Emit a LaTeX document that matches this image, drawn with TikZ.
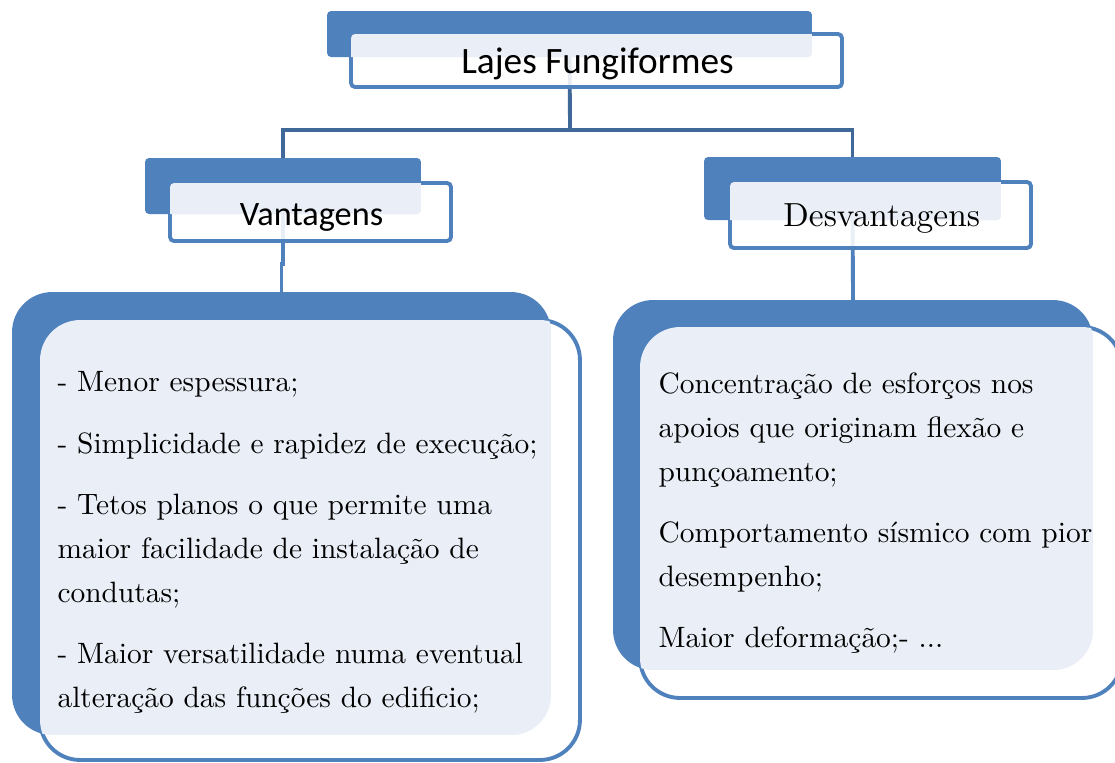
\documentclass[tikz,border=0pt]{standalone}
\usepackage{fontspec}
\newfontfamily\calibri{Carlito}
\usepackage{xcolor}
\usetikzlibrary{positioning,calc,backgrounds}
\definecolor{boxblue}{RGB}{79,129,189}
\definecolor{linkblue}{RGB}{64,104,153}
\definecolor{paleblue}{RGB}{234,239,247}
\tikzset{
	backbox/.style={rectangle,fill=boxblue,inner sep=0pt,outer sep=0pt},
	frontbox/.style={rectangle,draw=boxblue,line width=2.2pt,fill=white,fill opacity=0.88,draw opacity=1,inner sep=0pt,outer sep=0pt},
	link/.style={draw=linkblue,line width=2.2pt},
	sublink/.style={draw=boxblue,line width=2.2pt},
	listtext/.style={anchor=north west,inner sep=0pt,align=left,font=\fontsize{10}{14.9}\selectfont,scale=1.675,transform shape}
}
\begin{document}
\begin{tikzpicture}[x=0.02cm,y=-0.02cm]
		\useasboundingbox (0,0) rectangle (1115,762);
		% back plates
		\node[backbox,rounded corners=0.08cm,minimum width=9.7cm,minimum height=0.92cm] (titleback) at (569.5,34) {};
		\node[backbox,rounded corners=0.08cm,minimum width=5.52cm,minimum height=1.12cm] (vantback) at (283,186) {};
		\node[backbox,rounded corners=0.08cm,minimum width=5.94cm,minimum height=1.26cm] (desvback) at (852.5,188.5) {};
		\node[backbox,rounded corners=0.8cm,minimum width=10.78cm,minimum height=8.86cm] (vbigback) at (281.5,513.5) {};
		\node[backbox,rounded corners=0.8cm,minimum width=9.6cm,minimum height=7.4cm] (dbigback) at (853,485) {};
		% front boxes
		\node[frontbox,rounded corners=0.08cm,minimum width=9.82cm,minimum height=1.06cm] (titlefront) at (596.5,60.5) {};
		\node[frontbox,rounded corners=0.08cm,minimum width=5.62cm,minimum height=1.16cm] (vantfront) at (310.5,212) {};
		\node[frontbox,rounded corners=0.08cm,minimum width=6.02cm,minimum height=1.32cm] (desvfront) at (880.5,215) {};
		\node[frontbox,rounded corners=0.8cm,minimum width=10.8cm,minimum height=8.8cm] (vbigfront) at (310,540) {};
		\node[frontbox,rounded corners=0.8cm,minimum width=9.64cm,minimum height=7.42cm] (dbigfront) at (881,512.5) {};
		% overlap of back and front
		\begin{scope}
			\clip[rounded corners=0.08cm] (titlefront.north west) rectangle (titlefront.south east);
			\fill[paleblue,rounded corners=0.08cm] (titleback.north west) rectangle (titleback.south east);
		\end{scope}
		\begin{scope}
			\clip[rounded corners=0.08cm] (vantfront.north west) rectangle (vantfront.south east);
			\fill[paleblue,rounded corners=0.08cm] (vantback.north west) rectangle (vantback.south east);
		\end{scope}
		\begin{scope}
			\clip[rounded corners=0.08cm] (desvfront.north west) rectangle (desvfront.south east);
			\fill[paleblue,rounded corners=0.08cm] (desvback.north west) rectangle (desvback.south east);
		\end{scope}
		\begin{scope}
			\clip[rounded corners=0.8cm] (vbigfront.north west) rectangle (vbigfront.south east);
			\fill[paleblue,rounded corners=0.8cm] (vbigback.north west) rectangle (vbigback.south east);
		\end{scope}
		\begin{scope}
			\clip[rounded corners=0.8cm] (dbigfront.north west) rectangle (dbigfront.south east);
			\fill[paleblue,rounded corners=0.8cm] (dbigback.north west) rectangle (dbigback.south east);
		\end{scope}
		% texts
		\node[anchor=base,font=\calibri\fontsize{21.2}{25}\selectfont] (titletext) at (597.5,73) {Lajes Fungiformes};
		\node[anchor=base,font=\calibri\fontsize{19.5}{23}\selectfont] (vanttext) at (311.5,225) {Vantagens};
		\node[anchor=base,font=\fontsize{10}{12}\selectfont,scale=1.9,transform shape] (desvtext) at (881.7,226.7) {Desvantagens};
		\node[listtext] (vantlist) at (57,371) {- Menor espessura;\\[6pt]
			- Simplicidade e rapidez de execução;\\[6pt]
			- Tetos planos o que permite uma\\ maior facilidade de instalação de\\ condutas;\\[6pt]
			- Maior versatilidade numa eventual\\ alteração das funções do edificio;};
		\node[listtext] (desvlist) at (658,372) {Concentração de esforços nos\\ apoios que originam flexão e\\ punçoamento;\\[6pt]
			Comportamento sísmico com pior\\ desempenho;\\[6pt]
			Maior deformação;- ...};
		% connectors
		\coordinate (split) at (570,130);
		\coordinate (vantjog) at (282,264);
		\begin{scope}[on background layer]
			\draw[link] (titleback.center) -- (split);
			\draw[link] (split) -| (vantback.north);
			\draw[link] (split) -| (desvback.north);
			\draw[sublink] (vantback.center) |- (vantjog) -| (vbigback.north);
			\draw[sublink] (desvback.center) -- (dbigback.north);
		\end{scope}
	\end{tikzpicture}
\end{document}
